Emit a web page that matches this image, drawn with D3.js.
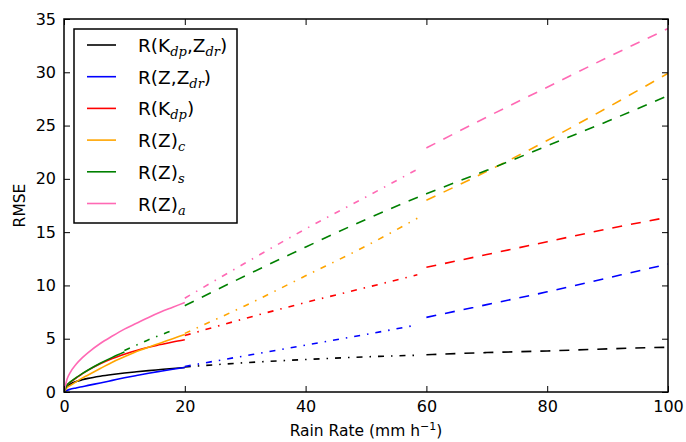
<!DOCTYPE html>
<html>
<head>
<meta charset="utf-8">
<script src="https://cdn.jsdelivr.net/npm/d3@7"></script>
<style>
  body { margin: 0; background: #fff; }
  text { font-family: "DejaVu Sans", sans-serif; fill: #000; }
</style>
</head>
<body>
<svg id="chart" width="686" height="442"></svg>
<script>
// rain rate sample points (mm h-1)
const xSolid = [0, 0.5, 1, 2, 3, 4, 6, 8, 10, 12, 14, 16, 18, 20];
const xDashDot = [20, 30, 40, 50, 58.5];
const xDashed = [60, 70, 80, 90, 100];
const xGreenSolid = [0, 0.5, 1, 2, 3, 4, 6, 8, 10];
const xGreenDashDot = [10, 12, 14, 16, 18];
const xGreenDashed = [20, 30, 40, 50, 60, 70, 80, 90, 100];

// RMSE values
const kdpZdrSolid = [0, 0.5, 0.72, 0.98, 1.15, 1.28, 1.48, 1.64, 1.78, 1.9, 2.01, 2.11, 2.21, 2.3];
const kdpZdrDashDot = [2.35, 2.75, 3.05, 3.3, 3.45];
const kdpZdrDashed = [3.5, 3.7, 3.85, 4.05, 4.2];

const zZdrSolid = [0, 0.15, 0.25, 0.38, 0.5, 0.62, 0.85, 1.09, 1.33, 1.55, 1.76, 1.95, 2.13, 2.3];
const zZdrDashDot = [2.4, 3.4, 4.4, 5.4, 6.3];
const zZdrDashed = [7.0, 8.2, 9.4, 10.7, 12.0];

const kdpSolid = [0, 0.65, 0.9, 1.3, 1.7, 2.05, 2.65, 3.15, 3.55, 3.9, 4.2, 4.45, 4.7, 4.9];
const kdpDashDot = [5.3, 6.9, 8.4, 9.8, 11.0];
const kdpDashed = [11.7, 12.9, 14.1, 15.3, 16.4];

const zcSolid = [0, 0.4, 0.6, 0.95, 1.3, 1.6, 2.2, 2.8, 3.3, 3.8, 4.2, 4.6, 5.0, 5.4];
const zcDashDot = [5.5, 8.1, 10.9, 13.7, 16.3];
const zcDashed = [18.0, 20.7, 23.6, 26.7, 29.9];

const zsSolid = [0, 0.65, 0.92, 1.35, 1.72, 2.07, 2.7, 3.25, 3.75];
const zsDashDot = [3.9, 4.4, 4.9, 5.35, 5.8];
const zsDashed = [8.1, 10.9, 13.6, 16.2, 18.6, 20.8, 23.1, 25.4, 27.8];

const zaSolid = [0, 1.2, 1.8, 2.6, 3.2, 3.7, 4.55, 5.25, 5.9, 6.45, 7.0, 7.5, 7.95, 8.4];
const zaDashDot = [8.8, 12.1, 15.3, 18.3, 20.9];
const zaDashed = [22.9, 25.8, 28.6, 31.4, 34.1];

const xTicks = [0, 20, 40, 60, 80, 100];
const yTicks = [0, 5, 10, 15, 20, 25, 30, 35];

const series = [
  { main: "R(K", sub1: "dp", mid: ",Z", sub2: "dr", end: ")", color: "#000000",
    parts: [[xSolid, kdpZdrSolid], [xDashDot, kdpZdrDashDot], [xDashed, kdpZdrDashed]] },
  { main: "R(Z,Z", sub1: "dr", end: ")", color: "#0000ff",
    parts: [[xSolid, zZdrSolid], [xDashDot, zZdrDashDot], [xDashed, zZdrDashed]] },
  { main: "R(K", sub1: "dp", end: ")", color: "#ff0000",
    parts: [[xSolid, kdpSolid], [xDashDot, kdpDashDot], [xDashed, kdpDashed]] },
  { main: "R(Z)", sub1: "c", color: "#ffa500",
    parts: [[xSolid, zcSolid], [xDashDot, zcDashDot], [xDashed, zcDashed]] },
  { main: "R(Z)", sub1: "s", color: "#008000",
    parts: [[xGreenSolid, zsSolid], [xGreenDashDot, zsDashDot], [xGreenDashed, zsDashed]] },
  { main: "R(Z)", sub1: "a", color: "#ff69b4",
    parts: [[xSolid, zaSolid], [xDashDot, zaDashDot], [xDashed, zaDashed]] },
];

// solid, dash-dot, dashed
const partDashes = [null, "6,7,1.5,7", "10,9"];

const margin = { top: 19, right: 18, bottom: 50, left: 64 };
const width = 686 - margin.left - margin.right;
const height = 442 - margin.top - margin.bottom;

const svg = d3.select("#chart");
const g = svg.append("g").attr("transform", `translate(${margin.left},${margin.top})`);

const x = d3.scaleLinear().domain([0, 100]).range([0, width]);
const y = d3.scaleLinear().domain([0, 35]).range([height, 0]);

g.append("clipPath")
  .attr("id", "plot-clip")
  .append("rect")
  .attr("width", width)
  .attr("height", height);

const line = d3
  .line()
  .curve(d3.curveMonotoneX)
  .x((d) => x(d[0]))
  .y((d) => y(d[1]));

const lines = g.append("g").attr("clip-path", "url(#plot-clip)");
series.forEach((s) => {
  s.parts.forEach(([xs, ys], i) => {
    lines
      .append("path")
      .attr("d", line(xs.map((v, j) => [v, ys[j]])))
      .attr("fill", "none")
      .attr("stroke", s.color)
      .attr("stroke-width", 1.6)
      .attr("stroke-dasharray", partDashes[i]);
  });
});

// axes, ticks pointing inward on every side
const tickLen = 6;
const bottomAxis = g.append("g")
  .attr("transform", `translate(0,${height})`)
  .call(d3.axisBottom(x).tickValues(xTicks).tickSize(-tickLen).tickPadding(tickLen + 3));
const topAxis = g.append("g")
  .call(d3.axisTop(x).tickValues(xTicks).tickSize(-tickLen).tickFormat(""));
const leftAxis = g.append("g")
  .call(d3.axisLeft(y).tickValues(yTicks).tickSize(-tickLen).tickPadding(tickLen + 2));
const rightAxis = g.append("g")
  .attr("transform", `translate(${width},0)`)
  .call(d3.axisRight(y).tickValues(yTicks).tickSize(-tickLen).tickFormat(""));

[bottomAxis, topAxis, leftAxis, rightAxis].forEach((a) => {
  a.select(".domain").remove();
  a.selectAll(".tick line").attr("stroke", "#000").attr("stroke-width", 1);
  a.selectAll(".tick text")
    .style("font-family", "DejaVu Sans")
    .style("font-size", "16px")
    .attr("fill", "#000");
});

g.append("rect")
  .attr("width", width)
  .attr("height", height)
  .attr("fill", "none")
  .attr("stroke", "#000")
  .attr("stroke-width", 1.5);

// axis labels
g.append("text")
  .attr("transform", `translate(${20 - margin.left},${height / 2}) rotate(-90)`)
  .attr("text-anchor", "middle")
  .attr("dominant-baseline", "central")
  .style("font-size", "15.5px")
  .text("RMSE");

const xLabel = g.append("text")
  .attr("x", width / 2)
  .attr("y", height + 44)
  .attr("text-anchor", "middle")
  .style("font-size", "15.5px");
xLabel.append("tspan").text("Rain Rate (mm h");
xLabel.append("tspan").attr("dy", -6).style("font-size", "11px").text("\u22121");
xLabel.append("tspan").attr("dy", 6).text(")");

// legend
const legend = svg.append("g").attr("transform", "translate(74,29)");
legend.append("rect")
  .attr("width", 163)
  .attr("height", 194)
  .attr("fill", "#fff")
  .attr("stroke", "#000")
  .attr("stroke-width", 1.5);

const rowGap = 31.7;
series.forEach((s, i) => {
  const ry = 16 + i * rowGap;
  legend.append("line")
    .attr("x1", 13)
    .attr("x2", 42)
    .attr("y1", ry)
    .attr("y2", ry)
    .attr("stroke", s.color)
    .attr("stroke-width", 1.6);

  const t = legend.append("text")
    .attr("x", 64)
    .attr("y", ry + 7)
    .style("font-size", "18.5px");
  t.append("tspan").text(s.main);
  const subStyle = (ts) =>
    ts.style("font-family", "DejaVu Serif")
      .style("font-style", "italic")
      .style("font-size", "13px");
  t.append("tspan").attr("dy", 4).call(subStyle).text(s.sub1);
  if (s.mid) {
    t.append("tspan").attr("dy", -4).text(s.mid);
    t.append("tspan").attr("dy", 4).call(subStyle).text(s.sub2);
  }
  if (s.end) {
    t.append("tspan").attr("dy", -4).text(s.end);
  }
});
</script>
</body>
</html>
